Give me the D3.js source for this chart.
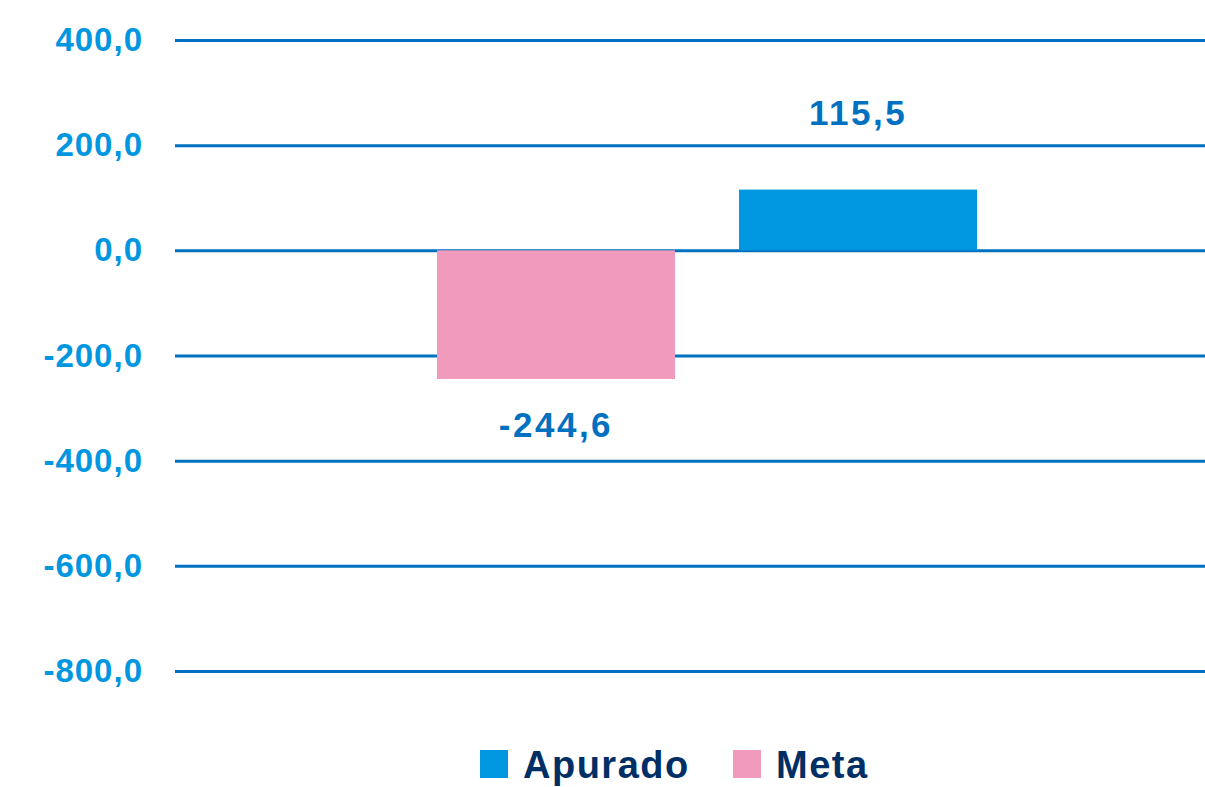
<!DOCTYPE html>
<html>
<head>
<meta charset="utf-8">
<script src="https://cdn.jsdelivr.net/npm/d3@7"></script>
<style>
  body { margin: 0; background: #fff; }
  svg { display: block; font-family: "Liberation Sans", Arial, sans-serif; font-weight: bold; }
</style>
</head>
<body>
<div id="chart"></div>
<script>
// data
let categories = ["Resultado"];
let seriesNames = ["Meta", "Apurado"];      // drawing order, left to right
let legendNames = ["Apurado", "Meta"];      // legend order
let values = { "Meta": [-244.6], "Apurado": [115.5] };
let tickValues = [400, 200, 0, -200, -400, -600, -800];

let colors = { "Apurado": "#0096e0", "Meta": "#f09bbd" };

let width = 1205, height = 787;
let plotLeft = 175, plotRight = 1239;

let svg = d3.select("#chart").append("svg")
    .attr("width", width)
    .attr("height", height);

let y = d3.scaleLinear()
    .domain([-800, 400])
    .range([671, 40]);

let x0 = d3.scaleBand()
    .domain(categories)
    .range([plotLeft, plotRight])
    .paddingInner(0)
    .paddingOuter(0.485);

let x1 = d3.scaleBand()
    .domain(seriesNames)
    .range([0, x0.bandwidth()])
    .paddingInner(0.212)
    .paddingOuter(0);

let fmt = d => d3.format(".1f")(d).replace(".", ",").replace("−", "-");

// gridlines + tick labels
let yAxis = d3.axisLeft(y)
    .tickValues(tickValues)
    .tickSize(-(plotRight - plotLeft))
    .tickPadding(32)
    .tickFormat(fmt);

let axisG = svg.append("g")
    .attr("transform", "translate(" + plotLeft + ",0)")
    .call(yAxis);

axisG.select(".domain").remove();
axisG.selectAll(".tick line")
    .attr("stroke", "#0070c0")
    .attr("stroke-width", 3);
axisG.selectAll(".tick text")
    .attr("fill", "#0096e0")
    .attr("font-size", 33)
    .attr("letter-spacing", 1)
    .attr("font-family", "Liberation Sans, Arial, sans-serif")
    .attr("font-weight", "bold");

// bars
let groups = svg.selectAll(".grp")
    .data(categories)
    .enter().append("g")
    .attr("class", "grp")
    .attr("transform", d => "translate(" + x0(d) + ",0)");

seriesNames.forEach(function(s) {
    groups.append("rect")
        .attr("x", x1(s))
        .attr("width", x1.bandwidth())
        .attr("y", (d, i) => y(Math.max(0, values[s][i])))
        .attr("height", (d, i) => Math.abs(y(values[s][i]) - y(0)))
        .attr("fill", colors[s]);

    groups.append("text")
        .attr("x", x1(s) + x1.bandwidth() / 2)
        .attr("y", (d, i) => values[s][i] >= 0 ? y(values[s][i]) - 65 : y(values[s][i]) + 58)
        .attr("text-anchor", "middle")
        .attr("font-size", 35)
        .attr("letter-spacing", 2.5)
        .attr("fill", "#0070c0")
        .text((d, i) => fmt(values[s][i]));
});

// legend
let legendX = [480, 733];
let legend = svg.selectAll(".leg")
    .data(legendNames)
    .enter().append("g")
    .attr("class", "leg")
    .attr("transform", (d, i) => "translate(" + legendX[i] + ",750)");

legend.append("rect")
    .attr("width", 28)
    .attr("height", 28)
    .attr("fill", d => colors[d]);

legend.append("text")
    .attr("x", 43)
    .attr("y", 28)
    .attr("font-size", 38)
    .attr("letter-spacing", 1.5)
    .attr("fill", "#002f66")
    .text(d => d);
</script>
</body>
</html>
